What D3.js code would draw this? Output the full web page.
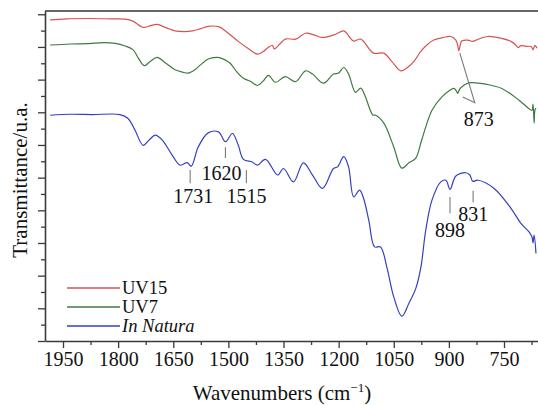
<!DOCTYPE html>
<html>
<head>
<meta charset="utf-8">
<script src="https://cdn.jsdelivr.net/npm/d3@7"></script>
<style>
  html, body { margin: 0; padding: 0; background: #fff; }
  svg { display: block; }
  svg text { font-family: "Liberation Serif", "DejaVu Serif", serif !important; fill: #111; }
</style>
</head>
<body>
<svg id="chart" width="538" height="405"></svg>
<script>
// FTIR spectra: [wavenumber (cm-1), transmittance (arbitrary units, offset per sample)]
const uv15 = [
  [1985, 98.3], [1940, 98.6], [1880, 98.7], [1820, 98.6], [1781, 98.5], [1760, 97.9],
  [1732, 96.0], [1712, 96.5], [1694, 96.9], [1670, 95.9], [1645, 94.9], [1620, 94.7],
  [1598, 94.9], [1575, 95.6], [1555, 96.3], [1527, 96.2], [1508, 94.9], [1473, 91.7],
  [1446, 89.5], [1421, 87.8], [1405, 88.6], [1391, 89.9], [1380, 90.5], [1375, 89.4],
  [1345, 92.4], [1317, 92.4], [1290, 94.2], [1265, 93.6], [1244, 92.9], [1208, 93.9],
  [1186, 94.9], [1159, 91.8], [1140, 92.4], [1105, 88.1], [1077, 88.1], [1055, 85.5],
  [1031, 82.7], [1012, 83.8], [995, 85.6], [976, 88.7], [960, 90.6], [941, 92.1],
  [915, 92.9], [895, 93.2], [881, 92.1], [876, 90.5], [873, 88.8], [869, 90.6],
  [865, 91.8], [848, 92.1], [835, 91.7], [815, 92.6], [794, 93.2], [760, 92.7],
  [731, 91.7], [718, 90.6], [712, 89.8], [704, 90.4], [690, 90.2], [676, 90.1],
  [671, 89.1], [666, 90.5], [660, 89.6]
];
const uv7 = [
  [1985, 90.6], [1930, 90.9], [1880, 91.0], [1841, 91.3], [1808, 91.1], [1781, 90.3],
  [1759, 89.1], [1745, 86.6], [1729, 84.3], [1712, 85.6], [1694, 86.8], [1670, 85.0],
  [1645, 83.0], [1625, 82.3], [1609, 82.0], [1590, 83.1], [1576, 84.5], [1555, 86.3],
  [1530, 86.8], [1512, 86.2], [1495, 85.0], [1478, 82.5], [1459, 80.4], [1440, 79.5],
  [1421, 78.2], [1405, 79.6], [1391, 81.3], [1372, 79.2], [1345, 80.9], [1317, 79.4],
  [1290, 82.7], [1271, 81.7], [1241, 78.9], [1214, 81.7], [1200, 82.0], [1186, 83.7],
  [1173, 81.7], [1154, 76.1], [1140, 77.4], [1129, 75.3], [1107, 69.2], [1099, 69.1],
  [1077, 66.7], [1050, 59.4], [1028, 52.9], [1008, 54.6], [990, 56.0], [974, 61.5],
  [946, 70.6], [919, 74.7], [900, 76.5], [886, 77.3], [879, 76.4], [876, 75.8],
  [871, 77.0], [867, 77.6], [846, 79.0], [820, 78.9], [799, 78.6], [756, 77.3],
  [709, 73.7], [682, 71.1], [674, 70.6], [671, 72.5], [668, 66.7], [666, 70.6], [663, 71.3]
];
const inNatura = [
  [1985, 69.1], [1930, 69.4], [1870, 69.3], [1795, 69.3], [1773, 68.1], [1754, 64.5],
  [1732, 59.9], [1715, 61.6], [1699, 63.0], [1680, 61.5], [1653, 56.9], [1631, 53.8],
  [1612, 54.6], [1601, 53.5], [1582, 59.4], [1555, 63.7], [1527, 64.0], [1508, 61.0],
  [1489, 63.5], [1473, 59.9], [1459, 55.6], [1435, 54.8], [1421, 53.8], [1399, 55.6],
  [1366, 50.8], [1350, 52.8], [1323, 48.7], [1296, 54.5], [1271, 50.8], [1244, 46.7],
  [1214, 52.8], [1203, 53.3], [1186, 56.4], [1173, 53.3], [1159, 44.1], [1143, 46.2],
  [1132, 43.6], [1118, 37.0], [1102, 28.8], [1086, 28.8], [1069, 22.7], [1050, 13.5],
  [1028, 7.6], [1009, 11.5], [990, 16.1], [976, 22.7], [963, 33.9], [946, 43.1],
  [922, 48.7], [908, 49.2], [897, 46.4], [881, 50.5], [854, 51.5], [843, 50.8],
  [835, 48.9], [821, 49.2], [777, 46.7], [731, 40.6], [704, 36.0], [682, 33.4],
  [674, 31.9], [671, 30.0], [668, 32.4], [663, 26.8]
];

const seriesNames = ["UV15", "UV7", "In Natura"];
const seriesColors = ["#d85252", "#3f7a42", "#3440c0"];

const xMajorTicks = [1950, 1800, 1650, 1500, 1350, 1200, 1050, 900, 750];
const xMinorTicks = [1875, 1725, 1575, 1425, 1275, 1125, 975, 825, 675];
const yMajorTicks = d3.range(0, 101, 10);
const yMinorTicks = d3.range(5, 100, 10);

// Band labels: label text, wavenumber where the marker sits, marker top/bottom (transmittance)
const bandLabels = [
  { text: "1731", at: 1604, top: 52.3, bottom: 48.3 },
  { text: "1620", at: 1508, top: 59.3, bottom: 56.0 },
  { text: "1515", at: 1451, top: 52.3, bottom: 48.3 },
  { text: "898",  at: 897,  top: 44.1, bottom: 39.1 },
  { text: "831",  at: 834,  top: 46.0, bottom: 42.5 }
];

(function draw() {
  const svg = d3.select("#chart");
  const serif = "Liberation Serif, DejaVu Serif, serif";
  const plotLeft = 45, plotRight = 538, plotTop = 11, plotBottom = 341;

  const x = d3.scaleLinear().domain([1999, 657.5]).range([plotLeft, plotRight]);
  const y = d3.scaleLinear().domain([0, 101]).range([plotBottom, plotTop]);

  const axisColor = "#3a3a3a";

  // top frame line
  svg.append("line")
    .attr("x1", plotLeft).attr("x2", plotRight)
    .attr("y1", y(101)).attr("y2", y(101))
    .attr("stroke", "#666").attr("stroke-width", 2);

  // x axis
  const gx = svg.append("g").attr("transform", `translate(0,${plotBottom})`)
    .attr("font-family", serif)
    .call(d3.axisBottom(x).tickValues(xMajorTicks).tickFormat(d3.format("d"))
      .tickSize(7).tickSizeOuter(0).tickPadding(4));
  gx.attr("font-family", serif).attr("font-size", 20);
  svg.append("g").attr("transform", `translate(0,${plotBottom})`)
    .call(d3.axisBottom(x).tickValues(xMinorTicks).tickSize(4).tickFormat(""))
    .call(g => g.select(".domain").remove());
  gx.selectAll("text").attr("font-size", 20).attr("fill", "#111");

  // y axis (no labels)
  svg.append("g").attr("transform", `translate(${plotLeft},0)`)
    .call(d3.axisLeft(y).tickValues(yMajorTicks).tickSize(7).tickSizeOuter(0).tickFormat(""));
  svg.append("g").attr("transform", `translate(${plotLeft},0)`)
    .call(d3.axisLeft(y).tickValues(yMinorTicks).tickSize(4).tickFormat(""))
    .call(g => g.select(".domain").remove());

  svg.selectAll(".domain").attr("stroke", axisColor).attr("stroke-width", 1.6);
  svg.selectAll(".tick line").attr("stroke", axisColor).attr("stroke-width", 1.3);

  // spectra
  const line = d3.line()
    .x(d => x(d[0]))
    .y(d => y(d[1]))
    .curve(d3.curveCatmullRom.alpha(0.5));

  [uv15, uv7, inNatura].forEach((data, i) => {
    svg.append("path")
      .datum(data)
      .attr("d", line)
      .attr("fill", "none")
      .attr("stroke", seriesColors[i])
      .attr("stroke-width", 1.2)
      .attr("stroke-linejoin", "round");
  });

  // band markers and labels
  const markColor = "#7a7a7a";
  const labelDx = { "1731": 3, "1620": -4, "1515": 0, "898": 0, "831": 0 };
  const labelDy = { "1731": 20, "1620": 22, "1515": 20, "898": 24, "831": 19 };
  bandLabels.forEach(b => {
    svg.append("line")
      .attr("x1", x(b.at)).attr("x2", x(b.at))
      .attr("y1", y(b.top)).attr("y2", y(b.bottom))
      .attr("stroke", markColor).attr("stroke-width", 1.1);
    svg.append("text")
      .attr("x", x(b.at) + labelDx[b.text])
      .attr("y", y(b.bottom) + labelDy[b.text])
      .attr("text-anchor", "middle")
      .attr("font-family", serif)
      .attr("font-size", 20)
      .text(b.text);
  });

  // 873 band shared by both treated samples
  const band873 = 873;
  const tip = [x(band873) + 16, y(72.9)];
  svg.append("path")
    .attr("d", `M${x(band873) + 1},${y(88.1)} L${tip[0]},${tip[1]} L${x(band873) + 4},${y(74.7)}`)
    .attr("fill", "none")
    .attr("stroke", markColor).attr("stroke-width", 1.1);
  svg.append("text")
    .attr("x", tip[0] + 4).attr("y", tip[1] + 23)
    .attr("text-anchor", "middle")
    .attr("font-family", serif)
    .attr("font-size", 20)
    .text("873");

  // legend
  const legend = svg.append("g").attr("transform", "translate(67,288)");
  seriesNames.forEach((name, i) => {
    const g = legend.append("g").attr("transform", `translate(0,${i * 19})`);
    g.append("line").attr("x1", 0).attr("x2", 53).attr("y1", 0).attr("y2", 0)
      .attr("stroke", seriesColors[i]).attr("stroke-width", 1.3);
    g.append("text").attr("x", 55).attr("y", 6)
      .attr("font-family", serif)
      .attr("font-size", 18.5)
      .attr("font-style", name === "In Natura" ? "italic" : "normal")
      .text(name);
  });

  // axis titles
  svg.append("text")
    .attr("transform", "translate(27,180) rotate(-90)")
    .attr("text-anchor", "middle")
    .attr("font-family", serif)
    .attr("font-size", 21)
    .text("Transmittance/u.a.");

  const xt = svg.append("text")
    .attr("x", 282).attr("y", 400)
    .attr("text-anchor", "middle")
    .attr("font-family", serif)
    .attr("font-size", 21);
  xt.append("tspan").text("Wavenumbers (cm");
  xt.append("tspan").attr("font-size", 13).attr("dy", -8).text("\u22121");
  xt.append("tspan").attr("dy", 8).text(")");
})();
</script>
</body>
</html>
